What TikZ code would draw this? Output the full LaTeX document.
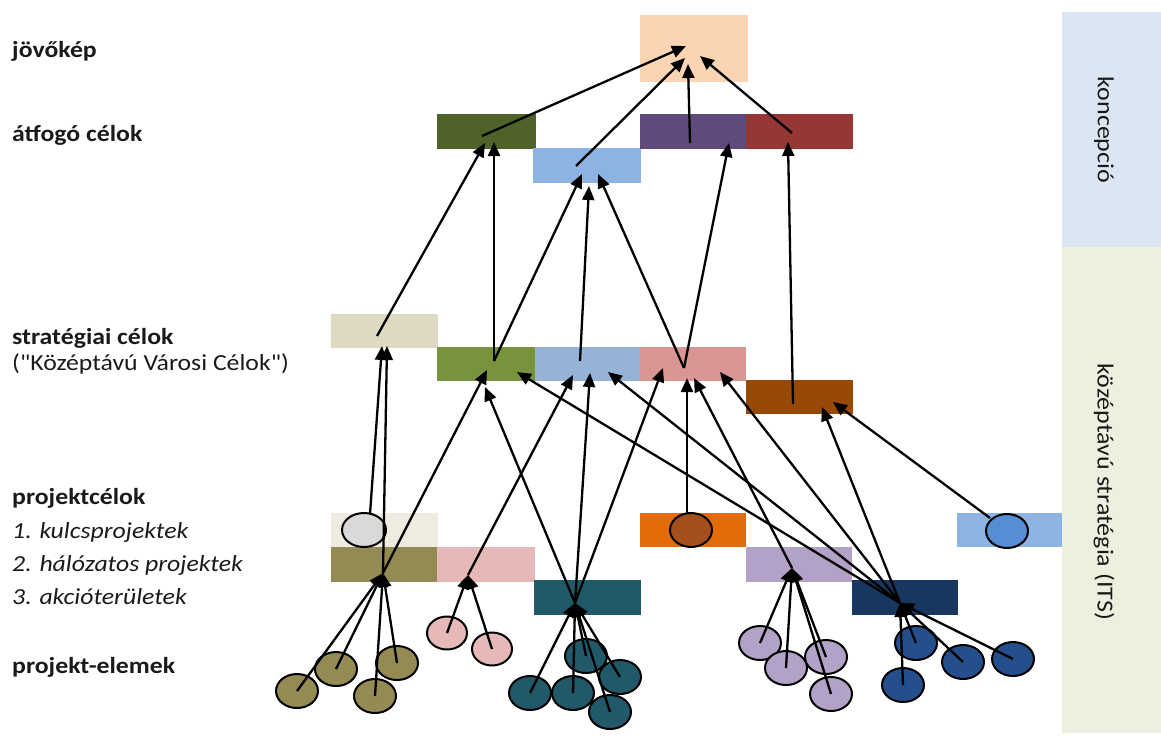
\documentclass[tikz,border=0pt]{standalone}
\usepackage{fontspec}
\setmainfont{Carlito}[Ligatures=TeXOff]
\usetikzlibrary{arrows.meta,shapes.geometric}
\definecolor{cJov}{HTML}{FBD4B4}
\definecolor{cDG}{HTML}{4F6228}
\definecolor{cLBA}{HTML}{8DB3E2}
\definecolor{cPU}{HTML}{604A7B}
\definecolor{cRD}{HTML}{953735}
\definecolor{cBeS}{HTML}{DDD9C3}
\definecolor{cGrS}{HTML}{77933C}
\definecolor{cLBS}{HTML}{95B3D7}
\definecolor{cPiS}{HTML}{D99694}
\definecolor{cBrS}{HTML}{984807}
\definecolor{cBeK}{HTML}{EEECE1}
\definecolor{cOrK}{HTML}{E36C09}
\definecolor{cLBK}{HTML}{8DB4E2}
\definecolor{cOl}{HTML}{948A54}
\definecolor{cPiH}{HTML}{E6B9B8}
\definecolor{cLa}{HTML}{B3A2C7}
\definecolor{cTe}{HTML}{215968}
\definecolor{cNa}{HTML}{17375E}
\definecolor{cNaE}{HTML}{244F8C}
\definecolor{cGray}{HTML}{D9D9D9}
\definecolor{cOrE}{HTML}{A5501C}
\definecolor{cLBE}{HTML}{558ED5}
\definecolor{cKon}{HTML}{DCE6F2}
\definecolor{cITS}{HTML}{EBF1DE}
\definecolor{cTxt}{HTML}{1A1A1A}
\newcommand{\wide}[1]{\scalebox{1.12}[1]{#1}}
\newcommand{\wides}[1]{\scalebox{1.13}[1]{#1}}
\tikzset{
  blk/.style={rectangle, draw=none, inner sep=0pt, outer sep=0pt},
  elm/.style={ellipse, draw=black, line width=2pt, minimum width=42pt, minimum height=34pt, inner sep=0pt},
  conn/.style={-{Triangle[length=14pt,width=12pt]}, line width=2.3pt, draw=black},
  lab/.style={anchor=base west, inner sep=0pt, text=cTxt, font=\fontsize{23}{27}\selectfont\bfseries},
  labi/.style={anchor=base west, inner sep=0pt, text=cTxt, font=\fontsize{23}{27}\selectfont\itshape},
  labr/.style={anchor=base west, inner sep=0pt, text=cTxt, font=\fontsize{23}{27}\selectfont},
  side/.style={rotate=-90, inner sep=0pt, text=cTxt, font=\fontsize{23}{27}\selectfont}
}
\begin{document}
\begin{tikzpicture}[x=1pt,y=-1pt]
\useasboundingbox (0,0) rectangle (1161,742);
% side panels
\node[blk, fill=cKon, minimum width=99pt, minimum height=235pt, anchor=north west] (kon) at (1062,12) {};
\node[blk, fill=cITS, minimum width=99pt, minimum height=486pt, anchor=north west] (its) at (1062,247) {};
\node[side] (konT) at (1104,130) {\wides{koncepció}};
\node[side] (itsT) at (1104,492) {\wides{középtávú stratégia (ITS)}};
% top
\node[blk, fill=cJov, minimum width=108pt, minimum height=67pt] (jov) at (694,48.5) {};
% atfogo
\node[blk, fill=cDG, minimum width=99pt, minimum height=35pt] (dgA) at (486.5,131.5) {};
\node[blk, fill=cLBA, minimum width=108pt, minimum height=35pt] (lbA) at (587,165.5) {};
\node[blk, fill=cPU, minimum width=106pt, minimum height=35pt] (puA) at (693,131.5) {};
\node[blk, fill=cRD, minimum width=107pt, minimum height=35pt] (rdA) at (799.5,131.5) {};
% strategic
\node[blk, fill=cBeS, minimum width=107pt, minimum height=34pt] (beS) at (384.5,331) {};
\node[blk, fill=cGrS, minimum width=98pt, minimum height=34pt] (grS) at (486,364) {};
\node[blk, fill=cLBS, minimum width=105pt, minimum height=34pt] (lbS) at (587.5,364) {};
\node[blk, fill=cPiS, minimum width=106pt, minimum height=34pt] (piS) at (693,364) {};
\node[blk, fill=cBrS, minimum width=107pt, minimum height=34pt] (brS) at (799.5,397) {};
% project goals
\node[blk, fill=cBeK, minimum width=107pt, minimum height=34pt] (beK) at (384.5,530) {};
\node[blk, fill=cOrK, minimum width=106pt, minimum height=34pt] (orK) at (693,530) {};
\node[blk, fill=cLBK, minimum width=105pt, minimum height=34pt] (lbK) at (1009.5,530) {};
\node[blk, fill=cOl, minimum width=106pt, minimum height=35pt] (olH) at (384,564.5) {};
\node[blk, fill=cPiH, minimum width=98pt, minimum height=35pt] (piH) at (486,564.5) {};
\node[blk, fill=cLa, minimum width=106pt, minimum height=35pt] (laH) at (799,564.5) {};
\node[blk, fill=cTe, minimum width=107pt, minimum height=35pt] (teA) at (587.5,597.5) {};
\node[blk, fill=cNa, minimum width=106pt, minimum height=35pt] (naA) at (905,597.5) {};
% kulcs ellipses
\node[elm, fill=cGray, minimum width=44pt] (grE) at (364,530) {};
\node[elm, fill=cOrE] (orE) at (691,530) {};
\node[elm, fill=cLBE] (lbE) at (1007,531) {};
% project elements
\node[elm, fill=cOl] (ol1) at (297,691) {};
\node[elm, fill=cOl] (ol2) at (336,669) {};
\node[elm, fill=cOl] (ol3) at (375,696) {};
\node[elm, fill=cOl] (ol4) at (397,663) {};
\node[elm, fill=cPiH, minimum width=40pt, minimum height=33pt] (pi1) at (447,633) {};
\node[elm, fill=cPiH, minimum width=40pt, minimum height=33pt] (pi2) at (492,649) {};
\node[elm, fill=cTe] (te3) at (586,656) {};
\node[elm, fill=cTe] (te4) at (620,677) {};
\node[elm, fill=cTe] (te1) at (530,693) {};
\node[elm, fill=cTe] (te2) at (573,693) {};
\node[elm, fill=cTe] (te5) at (610,712) {};
\node[elm, fill=cLa] (la1) at (760,643) {};
\node[elm, fill=cLa] (la3) at (826,657) {};
\node[elm, fill=cLa] (la2) at (786,668) {};
\node[elm, fill=cLa] (la4) at (831,694) {};
\node[elm, fill=cNaE] (na1) at (916,643) {};
\node[elm, fill=cNaE] (na2) at (963,662) {};
\node[elm, fill=cNaE] (na3) at (1013,659) {};
\node[elm, fill=cNaE] (na4) at (903,685) {};
% anchor points
\coordinate (jt1) at (686,46);
\coordinate (jt2) at (685,58);
\coordinate (jt3) at (688,64);
\coordinate (jt4) at (700,56);
\coordinate (dgAs) at (482,136);
\coordinate (lbAs) at (576,166);
\coordinate (puAs) at (690,143);
\coordinate (rdAs) at (792,133);
\coordinate (dgAt1) at (485,143);
\coordinate (dgAt2) at (494,142);
\coordinate (lbAt1) at (582,174);
\coordinate (lbAt2) at (589,186);
\coordinate (lbAt3) at (598,174);
\coordinate (puAt) at (729,143);
\coordinate (rdAt) at (788,142);
\coordinate (beSs) at (377,336);
\coordinate (grSs) at (494,361);
\coordinate (lbSs) at (580,361);
\coordinate (piSs) at (684,368);
\coordinate (brSs) at (793,404);
\coordinate (beSt1) at (382,346);
\coordinate (beSt2) at (387,346);
\coordinate (grSt1) at (487,370);
\coordinate (grSt2) at (485,387);
\coordinate (grSt3) at (517,372);
\coordinate (lbSt1) at (573,375);
\coordinate (lbSt2) at (590,373);
\coordinate (lbSt3) at (608,372);
\coordinate (piSt1) at (663,368);
\coordinate (piSt2) at (687,378);
\coordinate (piSt3) at (694,378);
\coordinate (piSt4) at (720,372);
\coordinate (brSt1) at (822,407);
\coordinate (brSt2) at (833,402);
\coordinate (olHub) at (383,573);
\coordinate (piHub) at (468,575);
\coordinate (teHub) at (575,603);
\coordinate (laHub) at (792,568);
\coordinate (naHub) at (900,603);
\coordinate (grEs) at (370,514);
\coordinate (orEs) at (687,513);
\coordinate (lbEs) at (990,518);
% to jovokep
\draw[conn] (dgAs) -- (jt1);
\draw[conn] (lbAs) -- (jt2);
\draw[conn] (puAs) -- (jt3);
\draw[conn] (rdAs) -- (jt4);
% to atfogo
\draw[conn] (beSs) -- (dgAt1);
\draw[conn] (grSs) -- (dgAt2);
\draw[conn] (grSs) -- (lbAt1);
\draw[conn] (lbSs) -- (lbAt2);
\draw[conn] (piSs) -- (lbAt3);
\draw[conn] (piSs) -- (puAt);
\draw[conn] (brSs) -- (rdAt);
% to strategic
\draw[conn] (grEs) -- (beSt1);
\draw[conn] (olHub) -- (beSt2);
\draw[conn] (olHub) -- (grSt1);
\draw[conn] (teHub) -- (grSt2);
\draw[conn] (naHub) -- (grSt3);
\draw[conn] (piHub) -- (lbSt1);
\draw[conn] (teHub) -- (lbSt2);
\draw[conn] (naHub) -- (lbSt3);
\draw[conn] (teHub) -- (piSt1);
\draw[conn] (orEs) -- (piSt2);
\draw[conn] (laHub) -- (piSt3);
\draw[conn] (naHub) -- (piSt4);
\draw[conn] (naHub) -- (brSt1);
\draw[conn] (lbEs) -- (brSt2);
% elements to hubs
\foreach \e in {ol1,ol2,ol3,ol4} \draw[conn] (\e.center) -- (olHub);
\foreach \e in {pi1,pi2} \draw[conn] (\e.center) -- (piHub);
\foreach \e in {te1,te2,te3,te4,te5} \draw[conn] (\e.center) -- (teHub);
\foreach \e in {la1,la2,la3,la4} \draw[conn] (\e.center) -- (laHub);
\foreach \e in {na1,na2,na3,na4} \draw[conn] (\e.center) -- (naHub);
% left labels
\node[lab] (l1) at (12,57) {\wide{jövőkép}};
\node[lab] (l2) at (12,141) {\wide{átfogó célok}};
\node[lab] (l3) at (12,344) {\wide{stratégiai célok}};
\node[labr] (l4) at (12,370) {\wide{("Középtávú Városi Célok")}};
\node[lab] (l5) at (12,504) {\wide{projektcélok}};
\node[labi] (l6) at (12,538) {\wide{1. kulcsprojektek}};
\node[labi] (l7) at (12,571) {\wide{2. hálózatos projektek}};
\node[labi] (l8) at (12,604) {\wide{3. akcióterületek}};
\node[lab] (l9) at (12,673) {\wide{projekt-elemek}};
\end{tikzpicture}
\end{document}
